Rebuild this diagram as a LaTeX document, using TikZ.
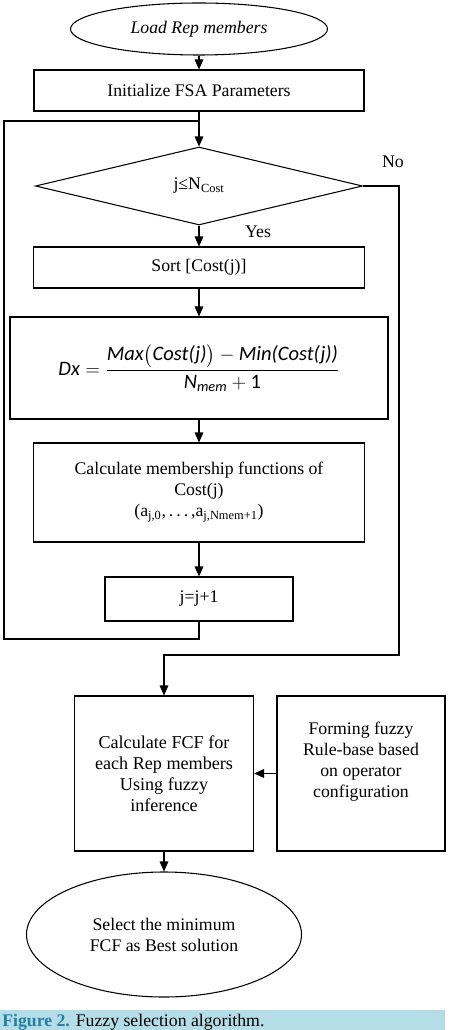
\documentclass[tikz,border=0pt]{standalone}
\usepackage{amsmath}
\usepackage{fontspec}
\setmainfont{Liberation Serif}
\newfontfamily\calfont{Carlito}
\usetikzlibrary{arrows.meta,positioning,shapes.geometric}
\definecolor{capbar}{RGB}{180,221,232}
\definecolor{capteal}{RGB}{36,128,160}
\newcommand{\calit}[1]{\text{\calfont\itshape #1}}

\begin{document}
\begin{tikzpicture}[
  x=0.75pt, y=-0.75pt,
  every node/.style={font=\fontsize{13.3}{15.75}\selectfont, align=center, inner sep=0pt},
  procbox/.style={draw, line width=0.8pt, rectangle},
  termnode/.style={draw, line width=0.8pt, ellipse},
  decision/.style={draw, line width=0.8pt, diamond},
  flow/.style={draw, line width=0.8pt, -{Triangle[length=7.5pt,width=6.5pt]}},
  plain/.style={draw, line width=0.8pt}
]
\useasboundingbox (0,0) rectangle (453,1030);

% main column
\node[termnode, minimum width=192.75pt, minimum height=39pt] (load) at (199,29)
  {\itshape Load Rep members};
\node[procbox, minimum width=247.5pt, minimum height=30.75pt] (init) at (199,90.5)
  {Initialize FSA Parameters};
\node[decision, minimum width=245.25pt, minimum height=58.5pt] (cond) at (199,186)
  {j≤N\textsubscript{Cost}};
\node[procbox, minimum width=248.25pt, minimum height=30.75pt] (sort) at (199,267.5)
  {Sort [Cost(j)]};
\node[procbox, minimum width=283.5pt, minimum height=76.5pt] (dx) at (199,368)
  {\fontsize{15.4}{18}\selectfont
   $\calit{Dx} = \dfrac{\calit{Max}\bigl(\calit{Cost(j)}\bigr) - \calit{Min(Cost(j))}}{\calit{N}_{\calit{mem}} + \text{\calfont 1}}$};
\node[procbox, minimum width=248.25pt, minimum height=74.25pt] (member) at (199,492.5)
  {Calculate membership functions of\\Cost(j)\\(a\textsubscript{j,0},\,.\,.\,.\,,a\textsubscript{j,Nmem+1})};
\node[procbox, minimum width=141pt, minimum height=33pt] (incr) at (199,599)
  {j=j+1};

% lower part
\node[procbox, minimum width=134.25pt, minimum height=116.25pt, font=\fontsize{13.6}{15.75}\selectfont] (fcf) at (164,773.5)
  {Calculate FCF for\\each Rep members\\Using fuzzy\\inference};
\node[procbox, minimum width=126pt, minimum height=116.25pt,
  label={[align=center, yshift=9pt]center:Forming fuzzy\\Rule-base based\\on operator\\configuration}] (rules) at (361,773.5) {};
\node[termnode, minimum width=206.25pt, minimum height=93.75pt] (select) at (164,934.5)
  {Select the minimum\\FCF as Best solution};

% labels
\node (no) at (393,162) {No};
\node (yes) at (258,232) {Yes};

% connectors
\coordinate (join) at (199,121);
\coordinate (looptl) at (4,121);
\coordinate (loopbl) at (4,639);
\coordinate (nobr) at (399,655);
\draw[flow] (load) -- (init);
\draw[flow] (init) -- (cond);
\draw[flow] (cond) -- (sort);
\draw[flow] (sort) -- (dx);
\draw[flow] (dx) -- (member);
\draw[flow] (member) -- (incr);
\draw[plain] (incr.south) |- (loopbl) -- (looptl) -- (join);
\draw[flow] (cond.east) -| (nobr) -| (fcf.north);
\draw[flow] (rules) -- (fcf);
\draw[flow] (fcf) -- (select);

% caption
\fill[capbar] (0,1010) rectangle (445,1030);
\node[anchor=base west, font=\fontsize{13.3}{16}\selectfont] (caption) at (2,1026.5)
  {\textcolor{capteal}{\textbf{Figure 2.}} Fuzzy selection algorithm.};
\end{tikzpicture}
\end{document}
